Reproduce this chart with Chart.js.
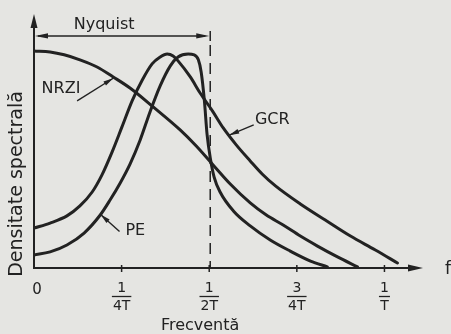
<!DOCTYPE html>
<html>
<head>
<meta charset="utf-8">
<script src="https://cdn.jsdelivr.net/npm/chart.js@4/dist/chart.umd.min.js"></script>
<style>
  html, body { margin: 0; padding: 0; background: #e5e5e2; }
  canvas { display: block; }
</style>
</head>
<body>
<canvas id="spectrum" width="451" height="334"></canvas>
<script>
// Spectral density of NRZI, PE and GCR codes versus frequency (in units of 1/T)
const freqNRZI = [0, 0.046, 0.086, 0.131, 0.18, 0.226, 0.274, 0.34, 0.417, 0.463, 0.511, 0.56, 0.617, 0.663, 0.711, 0.76, 0.809, 0.866, 0.923];
const densNRZI = [1.0, 0.995, 0.982, 0.959, 0.926, 0.88, 0.829, 0.742, 0.636, 0.562, 0.475, 0.387, 0.30, 0.244, 0.198, 0.147, 0.101, 0.051, 0.005];

const freqPE = [0, 0.046, 0.094, 0.143, 0.189, 0.217, 0.246, 0.274, 0.303, 0.331, 0.36, 0.389, 0.411, 0.44, 0.457, 0.469, 0.477, 0.486, 0.494, 0.503, 0.514, 0.531, 0.569, 0.617, 0.674, 0.731, 0.789, 0.837];
const densPE = [0.06, 0.074, 0.106, 0.161, 0.244, 0.313, 0.392, 0.479, 0.59, 0.719, 0.839, 0.931, 0.972, 0.986, 0.982, 0.959, 0.903, 0.774, 0.613, 0.507, 0.419, 0.35, 0.263, 0.194, 0.129, 0.078, 0.032, 0.005];

const freqGCR = [0, 0.046, 0.094, 0.131, 0.166, 0.194, 0.223, 0.251, 0.28, 0.309, 0.337, 0.36, 0.38, 0.397, 0.411, 0.446, 0.474, 0.509, 0.54, 0.577, 0.617, 0.651, 0.689, 0.76, 0.831, 0.903, 0.974, 1.037];
const densGCR = [0.184, 0.207, 0.24, 0.286, 0.35, 0.429, 0.535, 0.65, 0.77, 0.866, 0.94, 0.972, 0.986, 0.977, 0.954, 0.88, 0.806, 0.724, 0.645, 0.567, 0.493, 0.433, 0.378, 0.295, 0.221, 0.147, 0.083, 0.023];

const tickFreqs = [0.25, 0.5, 0.75, 1];
const tickNumerators = ['1', '1', '3', '1'];
const tickDenominators = ['4T', '2T', '4T', 'T'];
const nyquistFreq = 0.5;

const INK = '#222222';
const PAPER = '#e5e5e2';
const FONT = '"DejaVu Sans", sans-serif';

function toPoints(xs, ys) { return xs.map((f, i) => ({ x: f, y: ys[i] })); }

function curve(label, xs, ys) {
  return {
    label,
    data: toPoints(xs, ys),
    showLine: true,
    borderColor: INK,
    borderWidth: 3,
    borderCapStyle: 'round',
    borderJoinStyle: 'round',
    pointRadius: 0,
    fill: false,
    cubicInterpolationMode: 'monotone'
  };
}

function arrowHead(ctx, tx, ty, fx, fy, len, half) {
  const ang = Math.atan2(ty - fy, tx - fx);
  ctx.save();
  ctx.translate(tx, ty);
  ctx.rotate(ang);
  ctx.beginPath();
  ctx.moveTo(0, 0);
  ctx.lineTo(-len, -half);
  ctx.lineTo(-len, half);
  ctx.closePath();
  ctx.fill();
  ctx.restore();
}

function line(ctx, x1, y1, x2, y2) {
  ctx.beginPath();
  ctx.moveTo(x1, y1);
  ctx.lineTo(x2, y2);
  ctx.stroke();
}

function label(ctx, s, x, y, size, align = 'center', rot = 0) {
  ctx.save();
  ctx.translate(x, y);
  ctx.rotate(rot);
  ctx.font = size + 'px ' + FONT;
  ctx.textAlign = align;
  ctx.textBaseline = 'middle';
  ctx.fillText(s, 0, 0);
  ctx.restore();
}

// Curve name tags with leader arrows, in data coordinates
const curveTags = [
  { text: 'NRZI', at: [0.077, 0.825], from: [0.123, 0.77], to: [0.226, 0.874] },
  { text: 'GCR', at: [0.68, 0.682], from: [0.627, 0.659], to: [0.557, 0.612] },
  { text: 'PE', at: [0.289, 0.17], from: [0.244, 0.168], to: [0.19, 0.246] }
];

const figureFrame = {
  id: 'figureFrame',
  beforeDraw(chart) {
    const ctx = chart.ctx;
    ctx.save();
    ctx.fillStyle = PAPER;
    ctx.fillRect(0, 0, chart.width, chart.height);
    ctx.restore();
  },
  beforeDatasetsDraw(chart) {
    const { ctx, chartArea: a, scales: { x, y } } = chart;
    const x0 = x.getPixelForValue(0);
    const y0 = y.getPixelForValue(0);
    ctx.save();
    ctx.strokeStyle = INK;
    ctx.fillStyle = INK;

    // axes with arrow ends
    ctx.lineWidth = 2;
    line(ctx, x0, y0, x0, a.top + 8);
    line(ctx, x0 - 1, y0, a.right - 8, y0);
    arrowHead(ctx, x0, a.top, x0, y0, 14, 3.5);
    arrowHead(ctx, a.right, y0, x0, y0, 15, 3.5);

    // ticks and fractional labels
    tickFreqs.forEach((f, i) => {
      const px = x.getPixelForValue(f);
      ctx.lineWidth = 1.5;
      line(ctx, px, y0 - 3, px, y0 + 4);
      ctx.font = '14px ' + FONT;
      const w = Math.max(ctx.measureText(tickDenominators[i]).width, 9) + 2;
      label(ctx, tickNumerators[i], px, y0 + 20, 14);
      ctx.lineWidth = 1.3;
      line(ctx, px - w / 2, y0 + 28.5, px + w / 2, y0 + 28.5);
      label(ctx, tickDenominators[i], px, y0 + 38, 14);
    });
    label(ctx, '0', x0 + 3, y0 + 22, 15);
    label(ctx, 'f', a.right + 22, y0 + 2, 17, 'left');

    // axis titles
    label(ctx, 'Frecventă', x.getPixelForValue(0.474), y0 + 58, 16);
    label(ctx, 'Densitate spectrală', x0 - 17, (a.top + y0) / 2 + 43, 19, 'center', -Math.PI / 2);

    // Nyquist band: dashed limit and double arrow
    const xn = x.getPixelForValue(nyquistFreq);
    const ya = y.getPixelForValue(1.069);
    ctx.lineWidth = 1.5;
    ctx.setLineDash([11, 7]);
    line(ctx, xn + 1, ya + 9, xn + 1, y0);
    ctx.setLineDash([]);
    line(ctx, xn + 1, ya - 5, xn + 1, ya + 5);
    line(ctx, x0 + 4, ya, xn - 4, ya);
    arrowHead(ctx, x0 + 1, ya, xn, ya, 13, 2.6);
    arrowHead(ctx, xn, ya, x0, ya, 13, 2.6);
    label(ctx, 'Nyquist', x.getPixelForValue(0.2), ya - 11, 16);
    ctx.restore();
  },
  afterDatasetsDraw(chart) {
    const { ctx, scales: { x, y } } = chart;
    ctx.save();
    ctx.strokeStyle = INK;
    ctx.fillStyle = INK;
    ctx.lineWidth = 1.4;
    curveTags.forEach(t => {
      const fx = x.getPixelForValue(t.from[0]), fy = y.getPixelForValue(t.from[1]);
      const tx = x.getPixelForValue(t.to[0]), ty = y.getPixelForValue(t.to[1]);
      line(ctx, fx, fy, tx, ty);
      arrowHead(ctx, tx, ty, fx, fy, 10, 2.4);
      label(ctx, t.text, x.getPixelForValue(t.at[0]), y.getPixelForValue(t.at[1]), 16);
    });
    ctx.restore();
  }
};

new Chart(document.getElementById('spectrum'), {
  type: 'scatter',
  data: {
    datasets: [
      curve('NRZI', freqNRZI, densNRZI),
      curve('PE', freqPE, densPE),
      curve('GCR', freqGCR, densGCR)
    ]
  },
  options: {
    responsive: false,
    devicePixelRatio: 1,
    animation: false,
    layout: { padding: { left: 34, right: 28, top: 14, bottom: 66 } },
    scales: {
      x: { type: 'linear', min: 0, max: 1.11, display: false },
      y: { type: 'linear', min: 0, max: 1.17, display: false }
    },
    plugins: {
      legend: { display: false },
      tooltip: { enabled: false }
    },
    events: []
  },
  plugins: [figureFrame]
});
</script>
</body>
</html>
